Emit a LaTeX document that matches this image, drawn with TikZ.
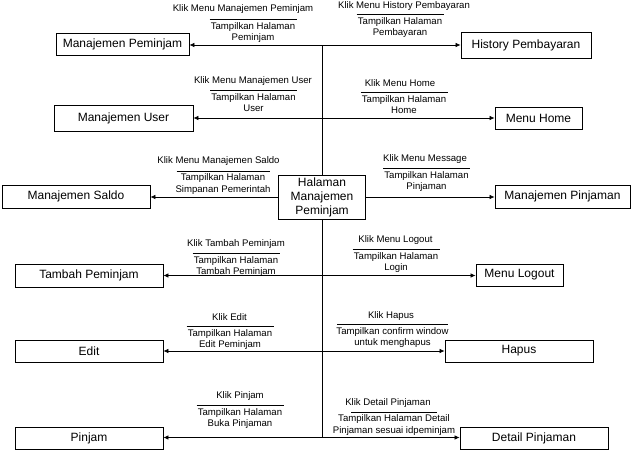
\documentclass[tikz,border=0pt]{standalone}
\usepackage{fontspec}
\setmainfont{Liberation Sans}
\usetikzlibrary{positioning,arrows.meta}
\newcommand{\tampil}[2][87pt]{\rule{#1}{.6pt}\\[-2pt]#2}

\begin{document}
\begin{tikzpicture}[x=1pt, y=-1pt,
  box/.style={draw, line width=.8pt, fill=white, minimum height=22pt, inner sep=2pt, font=\fontsize{12}{14}\selectfont},
  ev/.style={inner sep=0pt, font=\fontsize{9.6}{11.5}\selectfont},
  rs/.style={anchor=north, inner sep=0pt, align=center, font=\fontsize{9.6}{11.5}\selectfont},
  ar/.style={-{Latex[length=5pt,width=4.5pt]}, line width=.7pt},
  trunk/.style={line width=.8pt}
]
\useasboundingbox (0,0) rectangle (634,475);

\node[box, minimum width=87pt, minimum height=44pt, align=center] (hal) at (322,197) {Halaman\\Manajemen\\Peminjam};

\node[box, minimum width=133pt] (mpem) at (122.5,44.5) {Manajemen Peminjam};
\node[box, minimum width=139pt, minimum height=26pt] (muser) at (123.5,118.5) {Manajemen User};
\node[box, minimum width=148pt, minimum height=23pt] (saldo) at (76,196.5) {Manajemen Saldo};
\node[box, minimum width=148pt, minimum height=23pt] (tambah) at (89,275.5) {Tambah Peminjam};
\node[box, minimum width=148pt] (edit) at (89,351) {Edit};
\node[box, minimum width=148pt] (pinjam) at (89,438) {Pinjam};

\node[box, minimum width=130pt, minimum height=26pt] (hist) at (526,45) {History Pembayaran};
\node[box, minimum width=87pt] (home) at (538.5,118) {Menu Home};
\node[box, minimum width=135pt, minimum height=23pt] (mpinj) at (562.5,196.5) {Manajemen Pinjaman};
\node[box, minimum width=87pt] (logout) at (519.5,275) {Menu Logout};
\node[box, minimum width=148pt] (hapus) at (519,351) {Hapus};
\node[box, minimum width=148pt] (detail) at (534,438) {Detail Pinjaman};

\coordinate (t1) at (322,45);
\coordinate (t2) at (322,118);
\coordinate (t4) at (322,275.5);
\coordinate (t5) at (322,351);
\coordinate (t6) at (322,437.5);

\draw[trunk] (t1) -- (hal.north) (hal.south) -- (t6);

\draw[ar] (t1) -- (t1 -| mpem.east);
\draw[ar] (t1) -- (t1 -| hist.west);
\draw[ar] (t2) -- (t2 -| muser.east);
\draw[ar] (t2) -- (t2 -| home.west);
\draw[ar] (hal.west) -- (hal.west -| saldo.east);
\draw[ar] (hal.east) -- (hal.east -| mpinj.west);
\draw[ar] (t4) -- (t4 -| tambah.east);
\draw[ar] (t4) -- (t4 -| logout.west);
\draw[ar] (t5) -- (t5 -| edit.east);
\draw[ar] (t5) -- (t5 -| hapus.west);
\draw[ar] (t6) -- (t6 -| pinjam.east);
\draw[ar] (t6) -- (t6 -| detail.west);

\node[ev] (e1) at (243,9.5) {Klik Menu Manajemen Peminjam};
\node[rs] (r1) at (253,19) {\tampil{Tampilkan Halaman\\Peminjam}};
\node[ev] (e2) at (253,81.5) {Klik Menu Manajemen User};
\node[rs] (r2) at (253.5,90) {\tampil{Tampilkan Halaman\\User}};
\node[ev] (e3) at (218.5,161.5) {Klik Menu Manajemen Saldo};
\node[rs] (r3) at (223,170.5) {\tampil[93pt]{Tampilkan Halaman\\Simpanan Pemerintah}};
\node[ev] (e4) at (236,244.5) {Klik Tambah Peminjam};
\node[rs] (r4) at (236,253) {\tampil{Tampilkan Halaman\\Tambah Peminjam}};
\node[ev] (e5) at (229.5,317) {Klik Edit};
\node[rs] (r5) at (230,326) {\tampil{Tampilkan Halaman\\Edit Peminjam}};
\node[ev] (e6) at (240,396.5) {Klik Pinjam};
\node[rs] (r6) at (240,405) {\tampil{Tampilkan Halaman\\Buka Pinjaman}};

\node[ev] (e7) at (404,6) {Klik Menu History Pembayaran};
\node[rs] (r7) at (400,14) {\tampil{Tampilkan Halaman\\Pembayaran}};
\node[ev] (e8) at (400,83.5) {Klik Menu Home};
\node[rs] (r8) at (404,92) {\tampil{Tampilkan Halaman\\Home}};
\node[ev] (e9) at (425,159.5) {Klik Menu Message};
\node[rs] (r9) at (426.5,168) {\tampil{Tampilkan Halaman\\Pinjaman}};
\node[ev] (e10) at (395.5,240.5) {Klik Menu Logout};
\node[rs] (r10) at (396,249) {\tampil{Tampilkan Halaman\\Login}};
\node[ev] (e11) at (391,316.5) {Klik Hapus};
\node[rs] (r11) at (392.5,324) {\tampil[111pt]{Tampilkan confirm window\\untuk menghapus}};
\node[ev] (e12) at (388,403) {Klik Detail Pinjaman};
\node[rs] (r12) at (394,411.5) {\tampil[86pt]{Tampilkan Halaman Detail\\Pinjaman sesuai idpeminjam}};
\end{tikzpicture}
\end{document}
